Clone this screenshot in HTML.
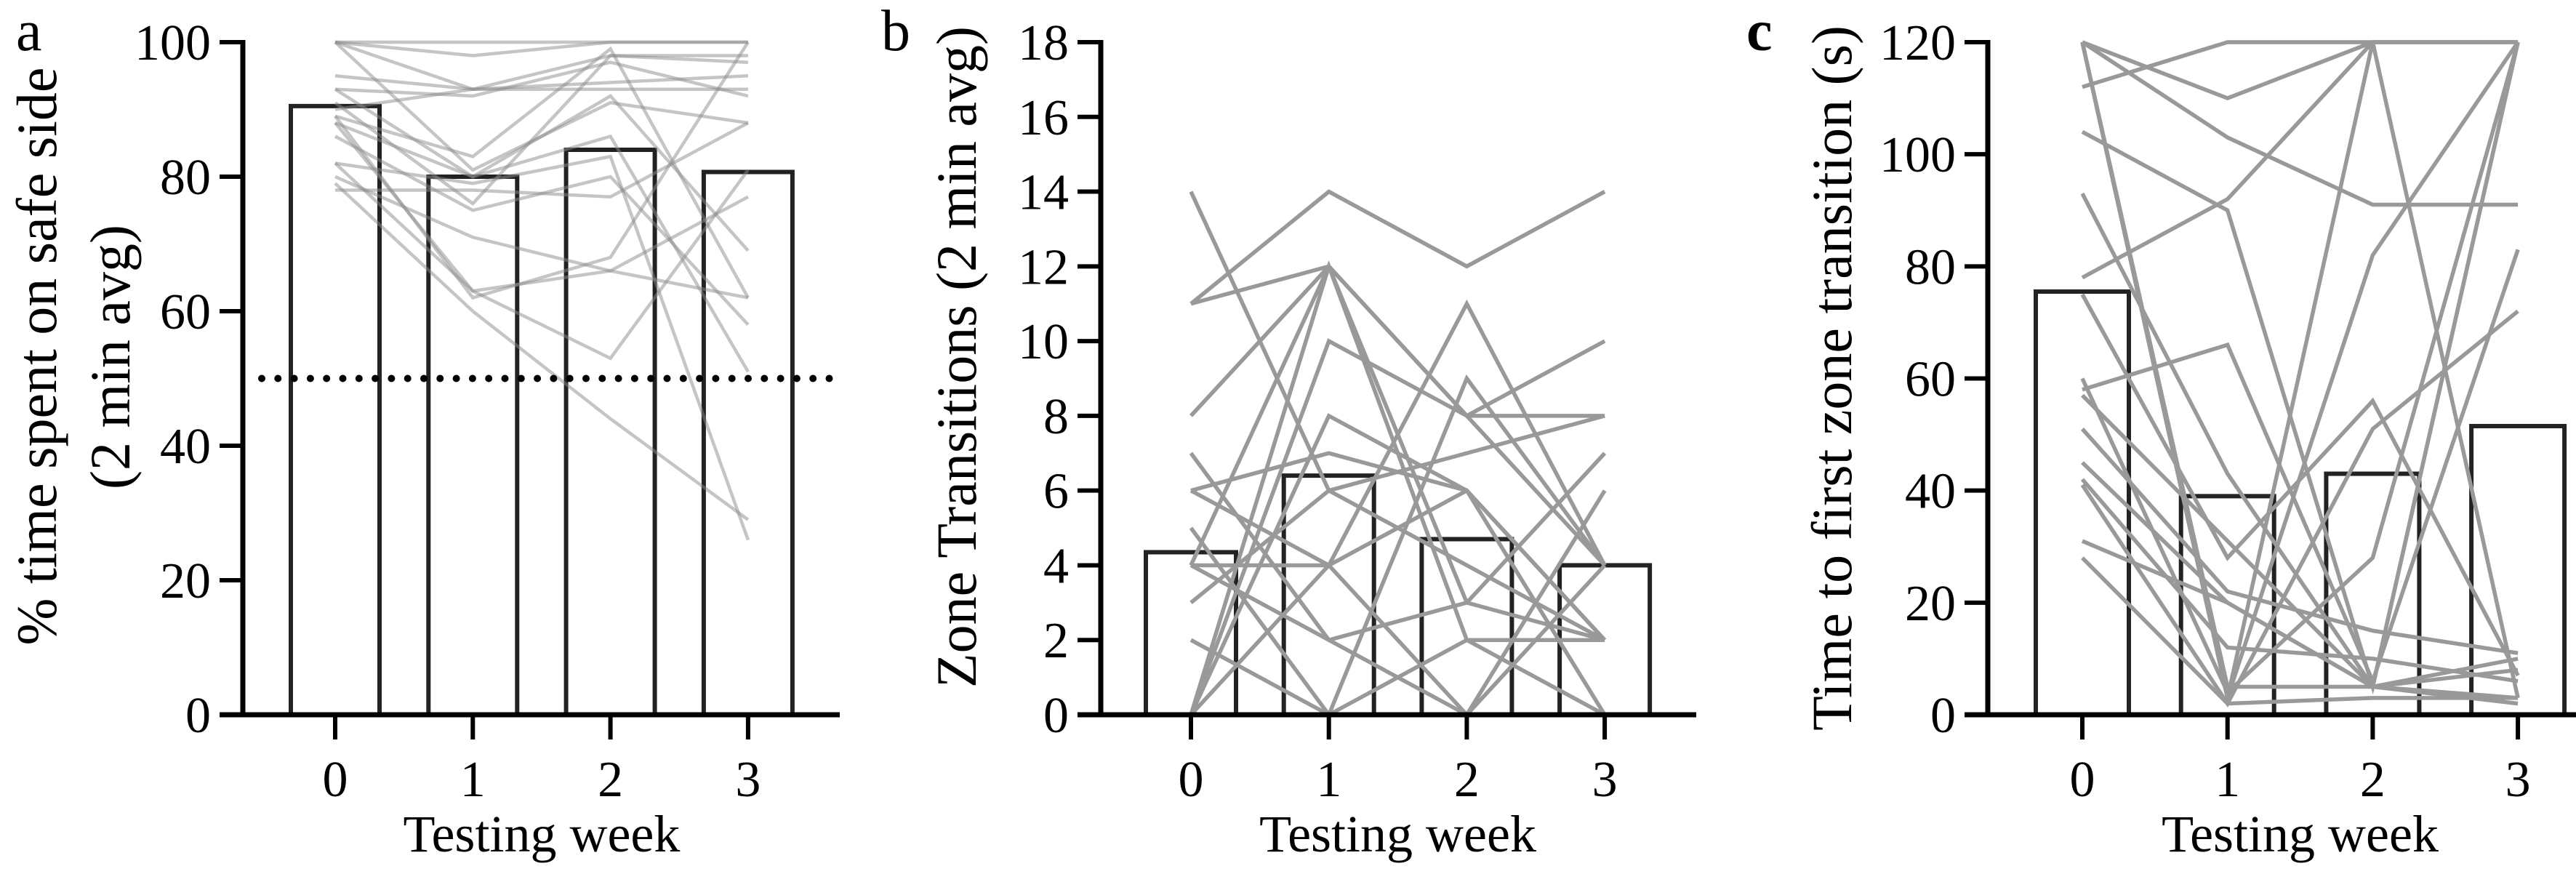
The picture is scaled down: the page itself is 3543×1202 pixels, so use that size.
<!DOCTYPE html>
<html><head><meta charset="utf-8"><style>
html,body{margin:0;padding:0;background:#fff}
svg{display:block}
svg text{font-family:"Liberation Serif","DejaVu Serif","Times New Roman",serif;fill:#000}
</style></head><body>
<svg id="fig" width="3543" height="1202" viewBox="0 0 3543 1202" xmlns="http://www.w3.org/2000/svg" font-family="Liberation Serif, DejaVu Serif, serif">
<text x="22" y="69" font-size="80" font-family="Liberation Serif, serif">a</text>
<text x="1212" y="69" font-size="80" font-family="Liberation Serif, serif">b</text>
<text x="2402" y="69" font-size="80" font-weight="bold" font-family="Liberation Serif, serif">c</text>
<text transform="translate(77,490) rotate(-90)" text-anchor="middle" font-size="78" font-family="Liberation Serif, serif">% time spent on safe side</text>
<text transform="translate(178,491) rotate(-90)" text-anchor="middle" font-size="78" font-family="Liberation Serif, serif">(2 min avg)</text>
<text transform="translate(1342,491) rotate(-90)" text-anchor="middle" font-size="78" font-family="Liberation Serif, serif">Zone Transitions  (2 min avg)</text>
<text transform="translate(2546,520) rotate(-90)" text-anchor="middle" font-size="78" font-family="Liberation Serif, serif">Time to first zone transition (s)</text>
</svg>
<script>
const weeks = [0, 1, 2, 3];
const barsA = [90.5, 80, 84, 80.7];
const linesA = [
 [100,100,100,100],[100,98,100,100],[95,93,93,93],[93,92,97,92],[100,93,98,97],
 [90,93,94,95],[88,80,92,69],[89,83,99,62],[93,80,86,51],[86,75,80,58],
 [82,63,53,81],[82,79,83,26],[89,62,68,100],[79,60,44,29],[78,78,77,88],
 [80,71,66,77],[91,76,98,98],[100,81,91,88],[88,63,66,62]
];
const ticksA = [0,20,40,60,80,100];
const barsB = [4.35, 6.4, 4.7, 4.0];
const linesB = [
 [11,14,12,14],[11,12,8,10],[8,12,8,8],[14,6,4,2],[7,2,0,4],[6,7,6,2],
 [4,4,11,4],[4,12,2,2],[0,12,3,2],[0,10,8,4],[0,8,6,0],[2,0,9,4],
 [3,6,7,8],[4,2,3,7],[0,4,0,6],[6,4,6,2],[5,0,2,0]
];
const ticksB = [0,2,4,6,8,10,12,14,16,18];
const barsC = [75.5, 39, 43, 51.5];
const linesC = [
 [112,120,120,120],[120,110,120,120],[120,103,91,91],[78,92,120,120],
 [104,90,5,120],[93,43,5,120],[120,3,120,3],[120,3,82,120],[120,5,5,10],
 [75,28,56,7],[60,4,28,120],[58,66,6,83],[41,2,51,72],[45,20,5,2],
 [51,22,15,11],[31,20,5,3],[28,2,3,3],[57,31,5,8],[42,12,10,6]
];
const ticksC = [0,20,40,60,80,100,120];
const refLineA = 50;

const NS = "http://www.w3.org/2000/svg";
const svg = document.getElementById('fig');
const FF = 'Liberation Serif, serif';
function mk(tag, attrs){const e=document.createElementNS(NS,tag);for(const k in attrs)e.setAttribute(k,attrs[k]);svg.appendChild(e);return e;}

function panel(id, cfg){
  const y0=983, y1=58;
  const ys = v => y0 - (v - 0)/(cfg.max) * (y0-y1);
  const xs = w => cfg.x0 + w*cfg.dx;
  cfg.bars.forEach((v,i)=>{
    const r=mk('rect',{x:xs(weeks[i])-cfg.bw/2,y:ys(v),width:cfg.bw,height:y0-ys(v),fill:'#fff',stroke:'#222','stroke-width':6});
    
    
  });
  cfg.lines.forEach((s,j)=>{
    const p=mk('polyline',{points:s.map((v,i)=>xs(weeks[i])+','+ys(v)).join(' '),fill:'none',stroke:cfg.lc,'stroke-width':cfg.lw});
    
    
  });
  if(cfg.ref!==undefined){
    const d=mk('line',{x1:cfg.ax+26,x2:cfg.xend,y1:ys(cfg.ref),y2:ys(cfg.ref),stroke:'#000','stroke-width':10,'stroke-linecap':'round','stroke-dasharray':'0 22.3'});
    
    
  }
  const ya=mk('line',{x1:cfg.ax,x2:cfg.ax,y1:y1-3,y2:y0+3,stroke:'#000','stroke-width':7});
  
  
  const xa=mk('line',{x1:cfg.ax-32,x2:cfg.xend,y1:y0,y2:y0,stroke:'#000','stroke-width':7});
  
  
  cfg.ticks.forEach(t=>{
    const l=mk('line',{x1:cfg.ax-32,x2:cfg.ax,y1:ys(t),y2:ys(t),stroke:'#000','stroke-width':6});
    
    
    const tx=mk('text',{x:cfg.ax-44,y:ys(t)+24,'text-anchor':'end','font-size':70,'font-family':FF});
    tx.textContent=t;
    
    
  });
  weeks.forEach(w=>{
    const l=mk('line',{x1:xs(w),x2:xs(w),y1:y0,y2:y0+34,stroke:'#000','stroke-width':6});
    
    
    const tx=mk('text',{x:xs(w),y:1095,'text-anchor':'middle','font-size':70,'font-family':FF});
    tx.textContent=w;
    
    
  });
  const xt=mk('text',{x:(xs(0)+xs(3))/2,y:1171,'text-anchor':'middle','font-size':72,'font-family':FF});
  xt.textContent='Testing week';
  
  
}
panel('a',{max:100,x0:461,dx:189.3,bw:122,ax:334,xend:1155,bars:barsA,lines:linesA,ticks:ticksA,lc:'rgba(140,140,140,0.5)',lw:4.5,ref:refLineA});
panel('b',{max:18,x0:1638,dx:189.7,bw:124,ax:1514,xend:2333,bars:barsB,lines:linesB,ticks:ticksB,lc:'#999',lw:5.5});
panel('c',{max:120,x0:2864,dx:199.7,bw:128,ax:2734,xend:3543,bars:barsC,lines:linesC,ticks:ticksC,lc:'#999',lw:5.5});
</script>
</body></html>
